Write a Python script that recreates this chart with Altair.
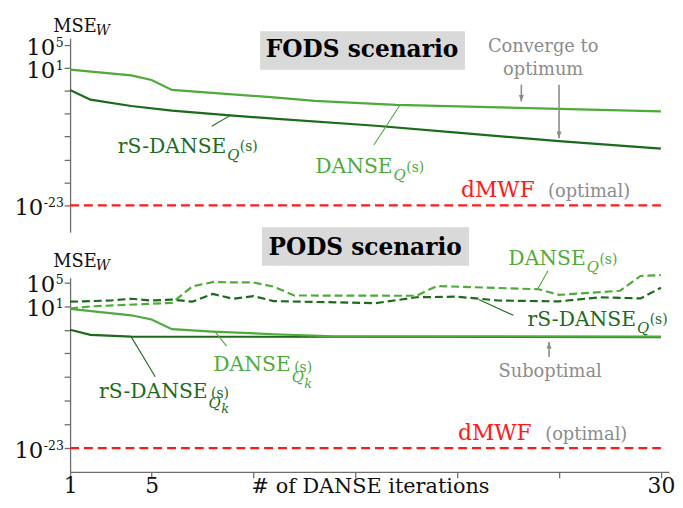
import altair as alt
import pandas as pd

# ------------------------------------------------------------------ data
# x: DANSE iteration, values: log10(MSE_W)
fods_danse_it = [1, 4, 5, 6, 11, 13, 17, 25, 30]
fods_danse_exp = [0.7, -0.3, -1.1, -2.85, -4.15, -4.75, -5.45, -6.15, -6.6]
fods_rs_it = [1, 2, 4, 6, 9, 11, 16, 20, 25, 30]
fods_rs_exp = [-2.85, -4.55, -5.65, -6.45, -7.35, -7.85, -9.1, -10.3, -11.8, -13.1]
fods_dmwf_it = [1, 30]
fods_dmwf_exp = [-23, -23]

pods_danse_q_it = [1, 2, 6, 7, 8, 10, 11, 12, 18, 19, 24, 25, 28, 29, 30]
pods_danse_q_exp = [0.6, 0.95, 1.55, 4.35, 5.05, 5.0, 4.3, 2.8, 2.75, 4.4, 3.85, 2.9, 3.6, 6.1, 6.25]
pods_rs_q_it = [1, 3, 4, 5, 6, 7, 8, 9, 10, 11, 16, 18, 20, 22, 25, 27, 29, 30]
pods_rs_q_exp = [1.75, 1.95, 2.25, 1.95, 2.1, 1.75, 3.05, 2.25, 2.7, 1.85, 1.5, 2.5, 2.6, 1.95, 1.8, 2.5, 2.3, 4.1]
pods_danse_qk_it = [1, 4, 5, 6, 8, 11, 14, 30]
pods_danse_qk_exp = [0.55, -0.55, -1.25, -2.9, -3.3, -3.75, -4.1, -4.15]
pods_rs_qk_it = [1, 2, 4, 30]
pods_rs_qk_exp = [-3.0, -3.85, -4.15, -4.25]
pods_dmwf_it = [1, 30]
pods_dmwf_exp = [-23, -23]

y_tick_exp = [5, 1, -3, -7, -11, -15, -19, -23]
y_label_exp = [5, 1, -23]
x_ticks = [1, 5, 10, 15, 20, 25, 30]
x_labels = [1, 5, 30]

# ------------------------------------------------------------------ style
FONT = "DejaVu Serif"
LIGHT = "#4eab3a"
DARK = "#1c6b1c"
RED = "#ff1a1a"
GRAY = "#8c8c8c"
BOX = "#d9d9d9"
AXIS = "#6e6e6e"
INK = "#111111"
W, H = 605, 196

x_label_expr = " || ".join(f"datum.value == {v}" for v in x_labels) + " ? datum.label : ''"

x_scale = alt.Scale(domain=[1, 30.4], nice=False, zero=False)

y_axis = alt.Axis(
    values=[10.0 ** e for e in y_tick_exp], labels=False, title=None,
    grid=False, domainColor=AXIS, tickColor=AXIS, tickSize=6, domainWidth=1.3,
    tickWidth=1.3,
)
x_axis = alt.Axis(
    values=x_ticks, labelExpr=x_label_expr, title="# of DANSE iterations",
    titleFont=FONT, titleFontSize=21, titleFontWeight="normal", titleColor=INK,
    titleY=21, titleX=303, titleBaseline="alphabetic", titleAlign="center",
    grid=False, domainColor=AXIS, tickColor=AXIS, tickSize=6, domainWidth=1.3,
    tickWidth=1.3, labelFont=FONT, labelFontSize=22, labelColor=INK,
    labelPadding=-2, labelFlush=False, labelOverlap=False,
)


def line_df(its, exps):
    return pd.DataFrame({"it": its, "mse": [10.0 ** e for e in exps]})


def make_panel(lines, boxes, texts, leaders, arrows, y_dom, show_x, mse_y, w_y):
    X = alt.X("it:Q", scale=x_scale, axis=x_axis if show_x else None)
    Y = alt.Y("mse:Q", scale=alt.Scale(type="log", domain=[10.0 ** y_dom[0], 10.0 ** y_dom[1]], nice=False), axis=y_axis)
    layers = []
    for (x0, x1, e0, e1) in boxes:
        df = pd.DataFrame({"it": [x0], "it2": [x1], "mse": [10.0 ** e0], "mse2": [10.0 ** e1]})
        layers.append(alt.Chart(df).mark_rect(color=BOX).encode(x=X, x2="it2", y=Y, y2="mse2"))
    for (its, exps, color, dash) in lines:
        kw = dict(color=color, strokeWidth=2.2)
        if dash:
            kw["strokeDash"] = dash
        layers.append(alt.Chart(line_df(its, exps)).mark_line(**kw).encode(x=X, y=Y))
    for (x0, e0, x1, e1, color) in leaders:
        df = pd.DataFrame({"it": [x0], "it2": [x1], "mse": [10.0 ** e0], "mse2": [10.0 ** e1]})
        layers.append(alt.Chart(df).mark_rule(color=color, strokeWidth=1.1).encode(x=X, x2="it2", y=Y, y2="mse2"))
    for (x0, e0, e1, up) in arrows:
        df = pd.DataFrame({"it": [x0], "it2": [x0], "mse": [10.0 ** e0], "mse2": [10.0 ** e1]})
        layers.append(alt.Chart(df).mark_rule(color=GRAY, strokeWidth=1.6).encode(x=X, x2="it2", y=Y, y2="mse2"))
        path = "M -0.65 1.7 L 0.65 1.7 L 0 0 Z" if up else "M -0.65 -1.7 L 0.65 -1.7 L 0 0 Z"
        tip = pd.DataFrame({"it": [x0], "mse": [10.0 ** e1]})
        layers.append(alt.Chart(tip).mark_point(shape=path, filled=True, color=GRAY, opacity=1, size=60, strokeWidth=0).encode(x=X, y=Y))
    for (x0, e0, label, color, size, style, weight, align) in texts:
        df = pd.DataFrame({"it": [x0], "mse": [10.0 ** e0], "label": [label]})
        layers.append(alt.Chart(df).mark_text(
            color=color, fontSize=size, font=FONT, fontStyle=style, fontWeight=weight,
            align=align, baseline="alphabetic").encode(x=X, y=Y, text="label:N"))
    # y tick labels 10^e drawn as base + raised exponent at the tick value
    for e in y_label_exp:
        sx = -27 if e < 0 else -15
        df = pd.DataFrame({"mse": [10.0 ** e]})
        layers.append(alt.Chart(df).mark_text(font=FONT, fontSize=23, color=INK, align="right", baseline="alphabetic", dy=10).encode(
            x=alt.value(sx), y=Y, text=alt.value("10")))
        layers.append(alt.Chart(df).mark_text(font=FONT, fontSize=12.5, color=INK, align="left", baseline="alphabetic", dy=2).encode(
            x=alt.value(sx + 0.5), y=Y, text=alt.value(str(e))))
    one = pd.DataFrame({"a": [0]})
    layers.append(alt.Chart(one).mark_text(font=FONT, fontSize=18, color=INK, align="left", baseline="alphabetic").encode(
        x=alt.value(-17), y=alt.value(mse_y), text=alt.value("MSE")))
    layers.append(alt.Chart(one).mark_text(font=FONT, fontSize=14, fontStyle="italic", color=INK, align="left", baseline="alphabetic").encode(
        x=alt.value(26), y=alt.value(w_y), text=alt.value("W")))
    return alt.layer(*layers).properties(width=W, height=H)


N, I, B = "normal", "italic", "bold"

top = make_panel(
    lines=[
        (fods_dmwf_it, fods_dmwf_exp, RED, [9, 5]),
        (fods_danse_it, fods_danse_exp, LIGHT, None),
        (fods_rs_it, fods_rs_exp, DARK, None),
    ],
    boxes=[(10.33, 20.38, 7.41, 0.67)],
    texts=[
        (15.33, 2.85, "FODS scenario", "#000000", 23.5, N, B, "center"),
        (24.22, 3.78, "Converge to", GRAY, 18, N, N, "center"),
        (24.22, -0.2, "optimum", GRAY, 18, N, N, "center"),
        (20.19, -21.47, "dMWF", RED, 22, N, N, "left"),
        (24.46, -21.47, "(optimal)", GRAY, 18, N, N, "left"),
        (8.67, -13.86, "rS-DANSE", DARK, 20.5, N, N, "right"),
        (8.72, -15.1, "Q", DARK, 15, I, N, "left"),
        (9.33, -13.6, "(s)", DARK, 14, N, N, "left"),
        (16.83, -17.32, "DANSE", LIGHT, 20.5, N, N, "right"),
        (16.88, -18.53, "Q", LIGHT, 15, I, N, "left"),
        (17.5, -17.2, "(s)", LIGHT, 14, N, N, "left"),
    ],
    leaders=[
        (7.95, -9.19, 8.87, -7.29, DARK),
        (15.91, -12.48, 17.18, -5.56, LIGHT),
    ],
    arrows=[(23.15, -1.93, -4.87, False), (25.0, -1.93, -11.27, False)],
    y_dom=(-27.7, 6.2), show_x=False, mse_y=-6.7, w_y=-3,
)

bottom = make_panel(
    lines=[
        (pods_dmwf_it, pods_dmwf_exp, RED, [9, 5]),
        (pods_rs_qk_it, pods_rs_qk_exp, DARK, None),
        (pods_danse_qk_it, pods_danse_qk_exp, LIGHT, None),
        (pods_rs_q_it, pods_rs_q_exp, DARK, [8, 4]),
        (pods_danse_q_it, pods_danse_q_exp, LIGHT, [8, 4]),
    ],
    boxes=[(10.42, 20.58, 14.33, 7.81)],
    texts=[
        (15.48, 9.6, "PODS scenario", "#000000", 23.5, N, B, "center"),
        (26.31, 7.98, "DANSE", LIGHT, 20.5, N, N, "right"),
        (26.36, 6.8, "Q", LIGHT, 15, I, N, "left"),
        (26.98, 8.2, "(s)", LIGHT, 14, N, N, "left"),
        (28.78, -2.4, "rS-DANSE", DARK, 20.5, N, N, "right"),
        (28.83, -3.57, "Q", DARK, 15, I, N, "left"),
        (29.45, -2.0, "(s)", DARK, 14, N, N, "left"),
        (24.56, -10.93, "Suboptimal", GRAY, 18, N, N, "center"),
        (11.83, -9.93, "DANSE", LIGHT, 20.5, N, N, "right"),
        (11.88, -11.9, "Q", LIGHT, 15, I, N, "left"),
        (12.5, -12.9, "k", LIGHT, 13, I, N, "left"),
        (12.0, -10.1, "(s)", LIGHT, 14, N, N, "left"),
        (7.75, -14.61, "rS-DANSE", DARK, 20.5, N, N, "right"),
        (7.80, -16.25, "Q", DARK, 15, I, N, "left"),
        (8.42, -17.0, "k", DARK, 13, I, N, "left"),
        (7.92, -14.45, "(s)", DARK, 14, N, N, "left"),
        (20.04, -21.59, "dMWF", RED, 22, N, N, "left"),
        (24.32, -21.59, "(optimal)", GRAY, 18, N, N, "left"),
    ],
    leaders=[
        (23.93, 3.79, 24.46, 6.97, LIGHT),
        (21.06, 2.12, 22.76, -0.56, DARK),
        (8.09, -3.24, 8.68, -5.75, LIGHT),
        (4.01, -4.24, 5.18, -10.93, DARK),
    ],
    arrows=[(24.51, -7.59, -5.08, True)],
    y_dom=(-27.0, 5.8), show_x=True, mse_y=-11.3, w_y=-8,
)

chart = alt.vconcat(top, bottom, spacing=46, bounds="flush").configure_view(stroke=None).properties(
    padding={"left": 5.7, "top": 7, "right": 0, "bottom": -4.5}
)

chart.save("out.html", embed_options={"renderer": "svg", "actions": False})
